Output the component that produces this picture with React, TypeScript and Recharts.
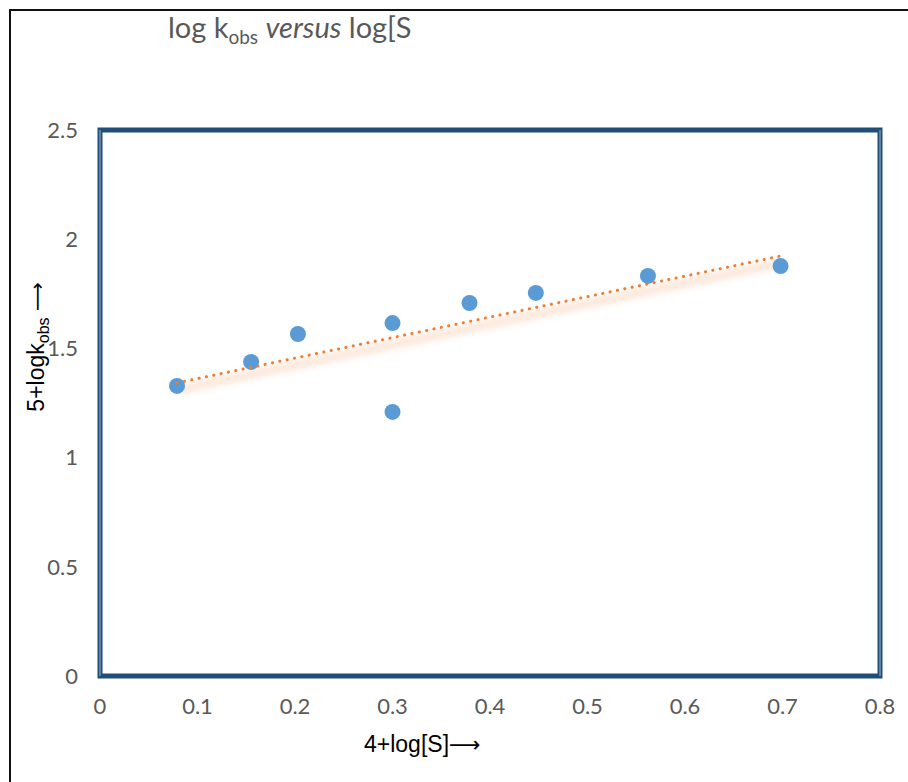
import React from 'react';
import { ScatterChart, Scatter, XAxis, YAxis, ReferenceArea } from 'recharts';

const xValues = [0.079, 0.155, 0.203, 0.3, 0.3, 0.379, 0.447, 0.562, 0.698];
const yValues = [1.328, 1.438, 1.566, 1.616, 1.209, 1.708, 1.754, 1.832, 1.877];
const trendX = [0.079, 0.698];
const trendY = [1.342, 1.923];
const xTicks = [0, 0.1, 0.2, 0.3, 0.4, 0.5, 0.6, 0.7, 0.8];
const yTicks = [0, 0.5, 1, 1.5, 2, 2.5];

const points = xValues.map((x, i) => ({ x, y: yValues[i] }));
const trend = trendX.map((x, i) => ({ x, y: trendY[i] }));

const Dot = (props: any) => <circle cx={props.cx} cy={props.cy} r={8} fill="#5B9BD5" />;
const NoDot = () => null;

export default function App() {
  return (
    <div style={{ position: 'absolute', left: 0, top: 0, width: 908, height: 782, background: '#fff', overflow: 'hidden' }}>
      <div style={{ position: 'absolute', left: 9, top: 9, width: 920, height: 800, borderTop: '2px solid #111', borderLeft: '2px solid #111' }} />
      <div style={{ position: 'absolute', left: 0, top: 0 }}>
        <ScatterChart width={908} height={782} margin={{ top: 130, right: 28, bottom: 0, left: 0 }}>
          <XAxis
            type="number"
            dataKey="x"
            domain={[0, 0.8]}
            ticks={xTicks}
            tickLine={false}
            tickSize={0}
            tickMargin={22}
            height={106}
            axisLine={false}
            tick={{ fill: '#595959', fontSize: 22, fontFamily: 'Lato' }}
          />
          <YAxis
            type="number"
            dataKey="y"
            domain={[0, 2.5]}
            ticks={yTicks}
            tickLine={false}
            tickSize={0}
            tickMargin={22}
            width={100}
            axisLine={false}
            tick={{ fill: '#595959', fontSize: 22, fontFamily: 'Lato' }}
          />
          <ReferenceArea x1={0} x2={0.8} y1={0} y2={2.5} fill="none" stroke="#1F4E79" strokeWidth={5} ifOverflow="visible" />
          <ReferenceArea x1={0} x2={0.8} y1={0} y2={2.5} fill="none" stroke="#A9B4C2" strokeWidth={1} strokeDasharray="0 780 546 780 546" ifOverflow="visible" />
          <Scatter
            data={trend}
            isAnimationActive={false}
            shape={NoDot}
            line={{ stroke: '#F4B183', strokeOpacity: 0.3, strokeWidth: 9, transform: 'translate(0,7)', style: { filter: 'blur(3px)' } }}
          />
          <Scatter data={points} isAnimationActive={false} shape={Dot} />
          <Scatter
            data={trend}
            isAnimationActive={false}
            shape={NoDot}
            line={{ stroke: '#ED7D31', strokeWidth: 3, strokeDasharray: '0.1 7.4', strokeLinecap: 'round' }}
          />
        </ScatterChart>
      </div>
      <div style={{ position: 'absolute', left: 168, top: 9, fontFamily: 'Lato', fontSize: 29, color: '#595959', whiteSpace: 'nowrap' }}>
        log k<sub style={{ fontSize: 19, verticalAlign: '-6px' }}>obs</sub> <i>versus</i> log[S
      </div>
      <div style={{ position: 'absolute', left: 364, top: 731, fontFamily: 'Liberation Sans', fontSize: 23, color: '#000', whiteSpace: 'nowrap' }}>
        4+log[S]<span style={{ fontFamily: 'DejaVu Sans', fontSize: 22 }}>⟶</span>
      </div>
      <div
        style={{
          position: 'absolute',
          left: 38,
          top: 347,
          transform: 'translate(-50%, -50%) rotate(-90deg)',
          fontFamily: 'Liberation Sans',
          fontSize: 23,
          color: '#000',
          whiteSpace: 'nowrap',
        }}
      >
        5+logk<sub style={{ fontSize: 16, verticalAlign: '-5px' }}>obs</sub> <span style={{ fontFamily: 'DejaVu Sans', fontSize: 20 }}>⟶</span>
      </div>
    </div>
  );
}
